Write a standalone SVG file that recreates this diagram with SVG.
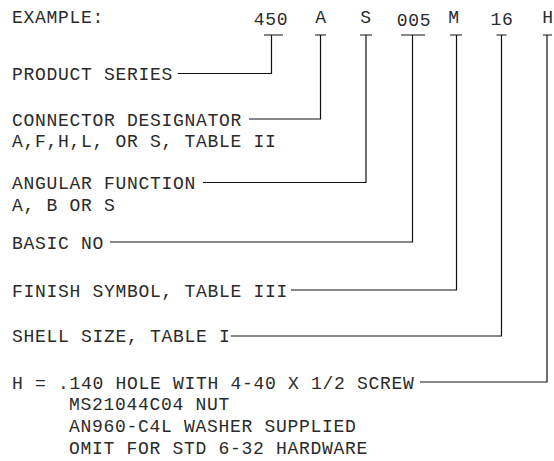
<svg xmlns="http://www.w3.org/2000/svg" width="554" height="461" viewBox="0 0 554 461">
<style>
text{font-family:"Liberation Mono","DejaVu Sans Mono",monospace;font-size:18px;letter-spacing:0.7px;fill:#2a2a2a}
.c{text-anchor:middle}
.ln{fill:none;stroke:#111;stroke-width:1.2}
</style>
<rect width="554" height="461" fill="#fff"/>
<g id="header">
<text x="12" y="22.7">EXAMPLE:</text>
<text class="c" x="271" y="25">450</text>
<text class="c" x="321" y="22.7">A</text>
<text class="c" x="366" y="22.7">S</text>
<text class="c" x="414" y="25.5">005</text>
<text class="c" x="454" y="22.7">M</text>
<text class="c" x="502" y="25">16</text>
<text class="c" x="548" y="22.7">H</text>
</g>
<g id="product-series"><text x="12" y="80">PRODUCT SERIES</text></g>
<g id="connector-designator"><text x="12" y="125.5">CONNECTOR DESIGNATOR</text><text x="12" y="146.5">A,F,H,L, OR S, TABLE II</text></g>
<g id="angular-function"><text x="12" y="189">ANGULAR FUNCTION</text><text x="12" y="210.5">A, B OR S</text></g>
<g id="basic-no"><text x="12" y="248.5">BASIC NO</text></g>
<g id="finish-symbol"><text x="12" y="296.5">FINISH SYMBOL, TABLE III</text></g>
<g id="shell-size"><text x="12" y="342">SHELL SIZE, TABLE I</text></g>
<g id="hardware"><text x="12" y="388.5">H = .140 HOLE WITH 4-40 X 1/2 SCREW</text><text x="69" y="410">MS21044C04 NUT</text><text x="69" y="432">AN960-C4L WASHER SUPPLIED</text><text x="69" y="454">OMIT FOR STD 6-32 HARDWARE</text></g>
<g id="connectors">
<path class="ln" d="M264 35H283M271.5 35V73.5H178"/>
<path class="ln" d="M315 35H326M320.5 35V119H249"/>
<path class="ln" d="M360 35H372M366 35V182.5H203"/>
<path class="ln" d="M401 35H425M412.5 35V242H110"/>
<path class="ln" d="M450 35H462M456.5 35V290H291"/>
<path class="ln" d="M496.5 35H506.5M501.5 35V336H231"/>
<path class="ln" d="M543 35H552M547 35V382H420"/>
</g>
</svg>
